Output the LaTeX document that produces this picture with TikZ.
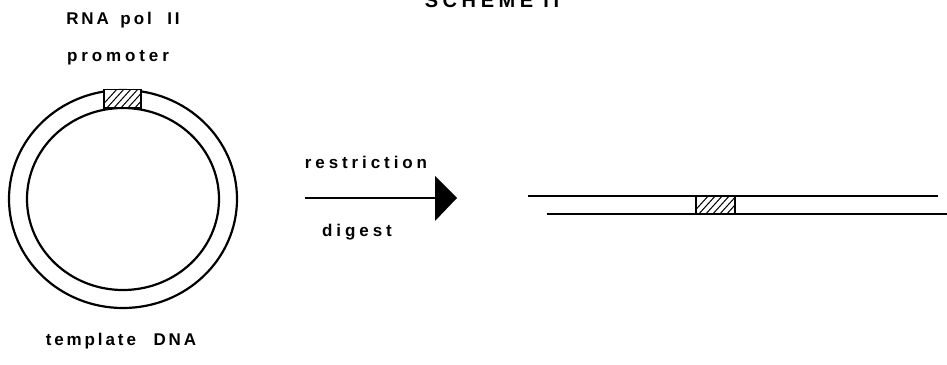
\documentclass[tikz,border=0pt]{standalone}
\usepackage{fontspec}
\setmainfont{Liberation Sans}[BoldFont={Liberation Sans Bold}]
\newfontfamily\lbl{Liberation Sans Bold}[LetterSpace=23]
\newfontfamily\lbltight{Liberation Sans Bold}[LetterSpace=17]
\begin{document}
\begin{tikzpicture}[x=1pt,y=-1pt,
  lab/.style={font=\lbl\fontsize{17}{19}\selectfont,anchor=base,inner sep=0pt},
  labtight/.style={font=\lbltight\fontsize{17}{19}\selectfont,anchor=base,inner sep=0pt},
  titlelab/.style={font=\lbl\fontsize{20}{22}\selectfont,anchor=base,inner sep=0pt},
  dna/.style={line width=2.2pt},
  hatchbox/.style={line width=1.6pt}]
\useasboundingbox (0,0) rectangle (947,364);
% title (cut off at top, as in the reference)
\node[titlelab] (title) at (492,7) {SCHEME II};
% labels
\node[labtight] (rna) at (123,24) {RNA\hspace{4pt} pol\hspace{8pt} II};
\node[lab] (prom) at (118,61) {promoter};
\node[labtight] (tmpl) at (121,345) {template\hspace{10pt} DNA};
% circular plasmid
\draw[dna] (123,199) ellipse [x radius=114, y radius=109];
\draw[dna] (123,199) ellipse [x radius=96, y radius=91];
% promoter box on circle
\fill[white] (104,89) rectangle (141,108);
\begin{scope}
  \clip (104,89) rectangle (141,108);
  \foreach \i in {0,7,...,63} { \draw[line width=1pt] (98+\i,110) -- (118+\i,88); }
\end{scope}
\draw[hatchbox] (104,89.5) rectangle (141,108);
% arrow
\coordinate (a1) at (305,198);
\coordinate (a2) at (437,198);
\draw[line width=1.6pt] (a1) -- (a2);
\fill (435,176) -- (457,198) -- (435,221) -- cycle;
\node[lab] (restr) at (366,168) {restriction};
\node[lab] (dig) at (357,236) {digest};
% linear DNA
\coordinate (t1) at (528,196);
\coordinate (t2) at (938,196);
\coordinate (b1) at (547,214);
\coordinate (b2) at (947,214);
\draw[dna] (t1) -- (t2);
\draw[dna] (b1) -- (b2);
\begin{scope}
  \clip (696,196) rectangle (735,214);
  \foreach \i in {0,7,...,63} { \draw[line width=1pt] (690+\i,216) -- (710+\i,194); }
\end{scope}
\draw[hatchbox] (696,196) rectangle (735,214);
\end{tikzpicture}
\end{document}
